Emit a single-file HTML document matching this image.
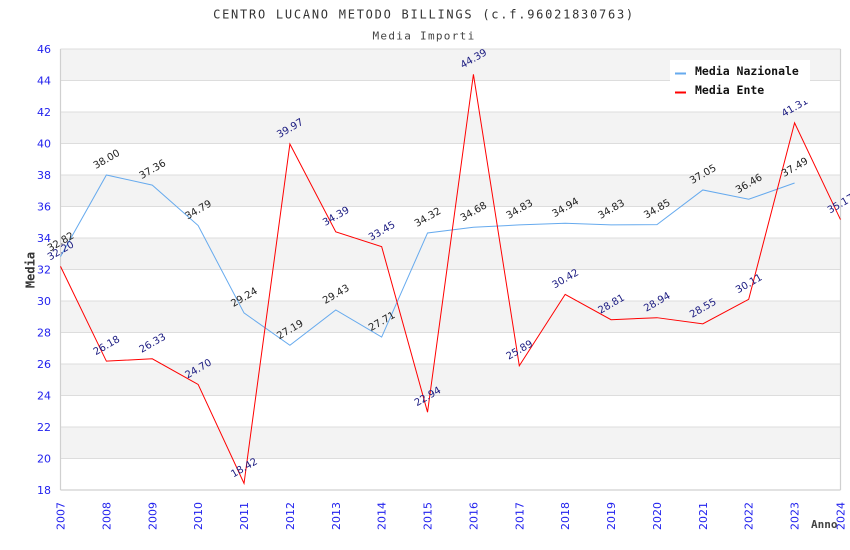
<!DOCTYPE html>
<html><head><meta charset="utf-8"><style>
html,body{margin:0;padding:0;background:#fff;}
svg{display:block;}
.t{font-family:"DejaVu Sans","Liberation Sans",sans-serif;}
.m{font-family:"DejaVu Sans Mono","Liberation Mono",monospace;}
</style></head><body>
<svg width="850" height="550" viewBox="0 0 850 550" xmlns="http://www.w3.org/2000/svg">
<rect width="850" height="550" fill="#fff"/>
<!-- bands -->
<g fill="#f3f3f3">
<rect x="60.5" y="49" width="780" height="31.5"/>
<rect x="60.5" y="112" width="780" height="31.5"/>
<rect x="60.5" y="175" width="780" height="31.5"/>
<rect x="60.5" y="238" width="780" height="31.5"/>
<rect x="60.5" y="301" width="780" height="31.5"/>
<rect x="60.5" y="364" width="780" height="31.5"/>
<rect x="60.5" y="427" width="780" height="31.5"/>
</g>
<g stroke="#dddddd" stroke-width="1">
<line x1="60.5" x2="840.5" y1="49" y2="49"/>
<line x1="60.5" x2="840.5" y1="80.5" y2="80.5"/>
<line x1="60.5" x2="840.5" y1="112" y2="112"/>
<line x1="60.5" x2="840.5" y1="143.5" y2="143.5"/>
<line x1="60.5" x2="840.5" y1="175" y2="175"/>
<line x1="60.5" x2="840.5" y1="206.5" y2="206.5"/>
<line x1="60.5" x2="840.5" y1="238" y2="238"/>
<line x1="60.5" x2="840.5" y1="269.5" y2="269.5"/>
<line x1="60.5" x2="840.5" y1="301" y2="301"/>
<line x1="60.5" x2="840.5" y1="332.5" y2="332.5"/>
<line x1="60.5" x2="840.5" y1="364" y2="364"/>
<line x1="60.5" x2="840.5" y1="395.5" y2="395.5"/>
<line x1="60.5" x2="840.5" y1="427" y2="427"/>
<line x1="60.5" x2="840.5" y1="458.5" y2="458.5"/>
</g>
<g stroke="#d0d0d0" stroke-width="1.2" fill="none">
<line x1="60.5" x2="60.5" y1="49" y2="490"/>
<line x1="840.5" x2="840.5" y1="49" y2="490"/>
<line x1="60.5" x2="840.5" y1="490" y2="490"/>
</g>
<!-- title -->
<text class="m" x="424" y="18.5" text-anchor="middle" font-size="12" letter-spacing="1.75" fill="#333">CENTRO LUCANO METODO BILLINGS (c.f.96021830763)</text>
<text class="m" x="424" y="39.5" text-anchor="middle" font-size="11" letter-spacing="1.3" fill="#444">Media Importi</text>
<!-- y ticks -->
<g class="t" font-size="11" fill="#2222ee" text-anchor="end">
<text x="51" y="53">46</text><text x="51" y="84.5">44</text><text x="51" y="116">42</text>
<text x="51" y="147.5">40</text><text x="51" y="179">38</text><text x="51" y="210.5">36</text>
<text x="51" y="242">34</text><text x="51" y="273.5">32</text><text x="51" y="305">30</text>
<text x="51" y="336.5">28</text><text x="51" y="368">26</text><text x="51" y="399.5">24</text>
<text x="51" y="431">22</text><text x="51" y="462.5">20</text><text x="51" y="494">18</text>
</g>
<!-- x ticks -->
<g class="t" font-size="11" fill="#2222ee" text-anchor="end">
<text transform="translate(64.5,502) rotate(-90)">2007</text>
<text transform="translate(110.4,502) rotate(-90)">2008</text>
<text transform="translate(156.3,502) rotate(-90)">2009</text>
<text transform="translate(202.1,502) rotate(-90)">2010</text>
<text transform="translate(248,502) rotate(-90)">2011</text>
<text transform="translate(293.9,502) rotate(-90)">2012</text>
<text transform="translate(339.8,502) rotate(-90)">2013</text>
<text transform="translate(385.7,502) rotate(-90)">2014</text>
<text transform="translate(431.5,502) rotate(-90)">2015</text>
<text transform="translate(477.4,502) rotate(-90)">2016</text>
<text transform="translate(523.3,502) rotate(-90)">2017</text>
<text transform="translate(569.2,502) rotate(-90)">2018</text>
<text transform="translate(615.1,502) rotate(-90)">2019</text>
<text transform="translate(660.9,502) rotate(-90)">2020</text>
<text transform="translate(706.8,502) rotate(-90)">2021</text>
<text transform="translate(752.7,502) rotate(-90)">2022</text>
<text transform="translate(798.6,502) rotate(-90)">2023</text>
<text transform="translate(844.5,502) rotate(-90)">2024</text>
</g>
<text class="m" font-size="12" font-weight="bold" fill="#333" text-anchor="middle" transform="translate(34.5,270) rotate(-90)">Media</text>
<text class="m" font-size="11" font-weight="bold" fill="#444" x="811" y="528">Anno</text>
<!-- series -->
<polyline fill="none" stroke="#66aaee" stroke-width="1" points="60.5,256.59 106.38,175 152.26,185.08 198.14,225.56 244.02,312.97 289.9,345.26 335.78,309.98 381.66,337.07 427.54,232.96 473.42,227.29 519.3,224.93 565.18,223.19 611.06,224.93 656.94,224.61 702.82,189.96 748.7,199.25 794.58,183.03"/>
<polyline fill="none" stroke="#ff0000" stroke-width="1" points="60.5,266.35 106.38,361.16 152.26,358.8 198.14,384.47 244.02,483.39 289.9,143.97 335.78,231.86 381.66,246.66 427.54,412.19 473.42,74.36 519.3,365.73 565.18,294.38 611.06,319.74 656.94,317.69 702.82,323.84 748.7,299.27 794.58,122.87 840.46,219.57"/>
<!-- labels nazionale -->
<g class="t" font-size="10" fill="#222" text-anchor="middle">
<text y="3.5" transform="translate(60.5,241.6) rotate(-30)">32.82</text>
<text y="3.5" transform="translate(106.4,159) rotate(-30)">38.00</text>
<text y="3.5" transform="translate(152.3,169.1) rotate(-30)">37.36</text>
<text y="3.5" transform="translate(198.1,209.6) rotate(-30)">34.79</text>
<text y="3.5" transform="translate(244,297) rotate(-30)">29.24</text>
<text y="3.5" transform="translate(289.9,329.3) rotate(-30)">27.19</text>
<text y="3.5" transform="translate(335.8,294) rotate(-30)">29.43</text>
<text y="3.5" transform="translate(381.7,321.1) rotate(-30)">27.71</text>
<text y="3.5" transform="translate(427.5,217) rotate(-30)">34.32</text>
<text y="3.5" transform="translate(473.4,211.3) rotate(-30)">34.68</text>
<text y="3.5" transform="translate(519.3,208.9) rotate(-30)">34.83</text>
<text y="3.5" transform="translate(565.2,207.2) rotate(-30)">34.94</text>
<text y="3.5" transform="translate(611.1,208.9) rotate(-30)">34.83</text>
<text y="3.5" transform="translate(656.9,208.6) rotate(-30)">34.85</text>
<text y="3.5" transform="translate(702.8,174) rotate(-30)">37.05</text>
<text y="3.5" transform="translate(748.7,183.3) rotate(-30)">36.46</text>
<text y="3.5" transform="translate(794.6,167) rotate(-30)">37.49</text>
</g>
<!-- labels ente -->
<g class="t" font-size="10" fill="#1a1a80" text-anchor="middle">
<text y="3.5" transform="translate(60.5,250.4) rotate(-30)">32.20</text>
<text y="3.5" transform="translate(106.4,345.2) rotate(-30)">26.18</text>
<text y="3.5" transform="translate(152.3,342.8) rotate(-30)">26.33</text>
<text y="3.5" transform="translate(198.1,368.5) rotate(-30)">24.70</text>
<text y="3.5" transform="translate(244,467.4) rotate(-30)">18.42</text>
<text y="3.5" transform="translate(289.9,128) rotate(-30)">39.97</text>
<text y="3.5" transform="translate(335.8,215.9) rotate(-30)">34.39</text>
<text y="3.5" transform="translate(381.7,230.7) rotate(-30)">33.45</text>
<text y="3.5" transform="translate(427.5,396.2) rotate(-30)">22.94</text>
<text y="3.5" transform="translate(473.4,58.4) rotate(-30)">44.39</text>
<text y="3.5" transform="translate(519.3,349.7) rotate(-30)">25.89</text>
<text y="3.5" transform="translate(565.2,278.4) rotate(-30)">30.42</text>
<text y="3.5" transform="translate(611.1,303.7) rotate(-30)">28.81</text>
<text y="3.5" transform="translate(656.9,301.7) rotate(-30)">28.94</text>
<text y="3.5" transform="translate(702.8,307.8) rotate(-30)">28.55</text>
<text y="3.5" transform="translate(748.7,283.3) rotate(-30)">30.11</text>
<text y="3.5" transform="translate(794.6,106.9) rotate(-30)">41.31</text>
<text y="3.5" transform="translate(840.5,203.6) rotate(-30)">35.17</text>
</g>
<!-- legend -->
<rect x="670" y="60" width="140" height="41" fill="#fff"/>
<rect x="675" y="72.5" width="11" height="2" fill="#66aaee"/>
<rect x="675" y="91.5" width="11" height="2" fill="#ff0000"/>
<text class="m" font-size="11.5" font-weight="bold" fill="#111" x="695" y="75">Media Nazionale</text>
<text class="m" font-size="11.5" font-weight="bold" fill="#111" x="695" y="94">Media Ente</text>
</svg>
</body></html>
